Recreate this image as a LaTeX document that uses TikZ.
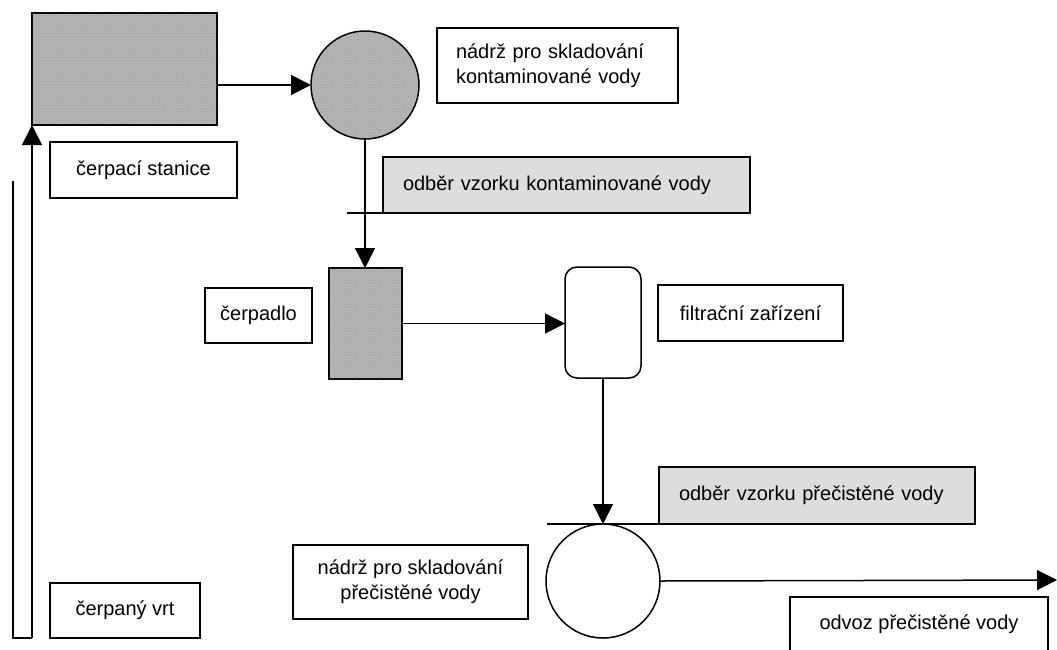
\documentclass[tikz,border=0pt]{standalone}
\usepackage{fontspec}
\setmainfont{Liberation Sans}
\usetikzlibrary{arrows.meta,patterns}
\definecolor{shade}{HTML}{B4B4B4}
\definecolor{lightshade}{HTML}{DDDDDD}

\begin{document}
\begin{tikzpicture}[x=1pt,y=-1pt,>={Triangle[length=20pt,width=20pt]},line width=1.5pt,
  font=\fontsize{20}{25}\selectfont,
  every node/.style={inner sep=0pt,outer sep=0pt},
  unitbox/.style={draw,fill=shade,rectangle,postaction={pattern=dots,pattern color=black!45}},
  tank/.style={draw,circle},
  infobox/.style={draw,fill=white,align=center},
  samplebox/.style={draw,fill=lightshade,align=left,inner xsep=20pt,text width=#1}]
  \useasboundingbox (0,0) rectangle (1057,649);
  \clip (0,0) rectangle (1057,649);
  % contaminated side
  \node[unitbox,minimum width=185pt,minimum height=112pt] (station) at (124.5,69) {};
  \node[unitbox,tank,minimum size=108pt] (tankA) at (365,85) {};
  \node[infobox,align=left,inner xsep=19pt,text width=203pt,minimum height=75pt] (lblTankA) at (557.5,65.5) {nádrž pro skladování\\kontaminované vody};
  \node[infobox,minimum width=187pt,minimum height=56pt] (lblStation) at (143.5,170) {čerpací stanice};
  \node[infobox,minimum width=150pt,minimum height=55pt] (lblWell) at (125,610.5) {čerpaný vrt};
  \node[samplebox=327pt,minimum height=56pt] (sampleA) at (566.5,185) {odběr vzorku kontaminované vody};
  \node[unitbox,minimum width=73pt,minimum height=111pt] (pump) at (365.5,323.5) {};
  \node[infobox,minimum width=107pt,minimum height=55pt] (lblPump) at (258.5,315.5) {čerpadlo};
  % cleaned side
  \node[draw,fill=white,rounded corners=12pt,minimum width=76pt,minimum height=111pt] (filter) at (603,322.5) {};
  \node[infobox,minimum width=185pt,minimum height=56pt] (lblFilter) at (750.5,313) {filtrační zařízení};
  \node[tank,fill=white,minimum size=114pt] (tankB) at (603,581) {};
  \node[samplebox=276pt,minimum height=57pt] (sampleB) at (817,495.5) {odběr vzorku přečistěné vody};
  \node[infobox,minimum width=235pt,minimum height=74pt] (lblTankB) at (410.5,582) {nádrž pro skladování\\přečistěné vody};
  \node[infobox,minimum width=258pt,minimum height=54pt] (lblOut) at (919,624) {odvoz přečistěné vody};
  \coordinate (wellL) at (13,181); \coordinate (wellB) at (13,638); \coordinate (wellR) at (32,638);
  \coordinate (tapA) at (347,213); \coordinate (tapB) at (547,524); \coordinate (out) at (1057,580);
  % flow
  \draw (wellL) -- (wellB) -- (wellR);
  \draw[->] (wellR) -- (wellR |- station.south);
  \draw[->] (station.east |- tankA.west) -- (tankA.west);
  \draw[->] (tankA.south) -- (tankA.south |- pump.north);
  \draw (tapA) -- (sampleA.south west);
  \draw[->] (pump.east) -- (pump.east -| filter.west);
  \draw[->] (filter.south) -- (tankB.north);
  \draw (tapB) -- (sampleB.south west);
  \draw[->] (tankB.east) -- (out);
\end{tikzpicture}
\end{document}
